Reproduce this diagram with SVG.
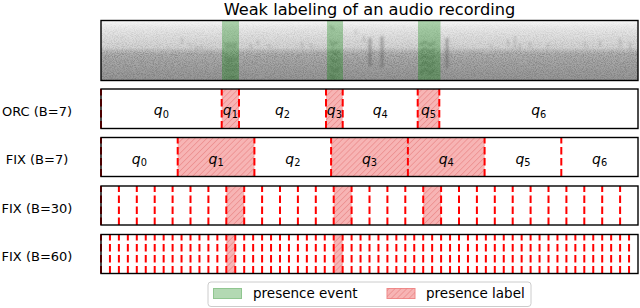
<svg xmlns="http://www.w3.org/2000/svg" width="640" height="308" viewBox="0 0 640 308">
<style>
text{font-family:"DejaVu Sans","Liberation Sans",sans-serif;fill:#000}
.lbl{font-size:13px;text-anchor:middle}
.q{font-size:14px;text-anchor:middle}
.qi{font-style:italic}
.sub{font-size:9.8px}
.box{fill:none;stroke:#000;stroke-width:1.4}
.d{stroke:#ff0000;stroke-width:2;stroke-dasharray:7.5 3.5;fill:none}
.band{fill:#f7b4b4}
.hb{fill:url(#hatch)}
.ev{fill:#008000;fill-opacity:0.3}
.mk{stroke:#3a3a3a;fill:none;filter:url(#soft)}
</style>
<defs>
<linearGradient id="spg" x1="0" y1="0" x2="0" y2="1">
<stop offset="0" stop-color="#f8f8f8"/>
<stop offset="0.1" stop-color="#ececec"/>
<stop offset="0.25" stop-color="#e0e0e0"/>
<stop offset="0.45" stop-color="#d4d4d4"/>
<stop offset="0.5" stop-color="#c2c2c2"/>
<stop offset="0.56" stop-color="#b0b0b0"/>
<stop offset="0.75" stop-color="#a4a4a4"/>
<stop offset="1" stop-color="#969696"/>
</linearGradient>
<linearGradient id="mg" x1="0" y1="0" x2="0" y2="1">
<stop offset="0" stop-color="#000"/>
<stop offset="0.15" stop-color="#444"/>
<stop offset="0.45" stop-color="#777"/>
<stop offset="0.55" stop-color="#fff"/>
<stop offset="1" stop-color="#fff"/>
</linearGradient>
<mask id="nm" maskUnits="userSpaceOnUse" x="101" y="20.5" width="537" height="60">
<rect x="101" y="20.5" width="537" height="60" fill="url(#mg)"/>
</mask>
<filter id="grain" x="0" y="0" width="1" height="1">
<feTurbulence type="fractalNoise" baseFrequency="0.9 1.1" numOctaves="2" seed="7"/>
<feColorMatrix type="matrix" values="0 0 0 0 0.15  0 0 0 0 0.15  0 0 0 0 0.15  2.6 0 0 0 -1.0"/>
</filter>
<filter id="soft" x="-50%" y="-20%" width="200%" height="140%">
<feGaussianBlur stdDeviation="0.8"/>
</filter>
<pattern id="hatch" width="4.2" height="4.2" patternUnits="userSpaceOnUse" patternTransform="rotate(45)">
<line x1="0" y1="0" x2="0" y2="4.2" stroke="#e06a6a" stroke-width="0.8"/>
</pattern>
</defs>

<text x="369.5" y="14.5" style="font-size:16.2px;text-anchor:middle">Weak labeling of an audio recording</text>

<g id="spectrogram">
<rect x="101" y="20.5" width="537" height="60" fill="url(#spg)"/>
<g mask="url(#nm)">
<rect x="101" y="20.5" width="537" height="60" filter="url(#grain)" opacity="0.55"/>
</g>
<g class="mk" stroke-opacity="0.3" stroke-width="1.2">
<path d="M182 38v6M188 44h4M195 46l3 3M200 47h3"/>
<path d="M250 44l2 4M258 40v5M268 45l2 2M302 42v6M310 44l2 3"/>
<path d="M356 30v4M364 36v6"/>
<path d="M490 44l2 3M508 40v6M515 36v12M520 44v6M530 42v5M548 44v4M585 42v5M600 40v6M620 38v10M630 42v8"/>
</g>
<g class="mk" stroke-opacity="0.35" stroke-width="3">
<path d="M370 38v28M382 36v32M447 38v30"/>
</g>
<g class="mk" stroke-opacity="0.45" stroke-width="1.1">
<path d="M224 44h13M225 47h12M224 58h14M226 61h10M224 66h13M225 70h12M226 77h10"/>
<path d="M330 26l4 4M330 40l3 5 4-3M331 50l4 4 4-3M330 58l5 4 5-3M330 66l5 5 5-4M330 74l5 5"/>
<path d="M420 45l5-3 5 3 5-3M420 52l5-4 5 4 5-4M420 59l5-4 5 4 5-4M420 66l5-4 5 4 5-4M420 73l5-4 5 4 5-4"/>
</g>
<rect class="ev" x="222" y="20.5" width="17" height="60"/>
<rect class="ev" x="327" y="20.5" width="16" height="60"/>
<rect class="ev" x="418" y="20.5" width="22.5" height="60"/>
<rect class="box" x="101" y="20.5" width="537" height="60"/>
</g>

<g id="orc">
<text class="lbl" x="37" y="115.7">ORC (B=7)</text>
<g>
<rect class="band" x="221.7" y="89" width="17.3" height="39.5"/><rect class="hb" x="221.7" y="89" width="17.3" height="39.5"/>
<rect class="band" x="326" y="89" width="16.7" height="39.5"/><rect class="hb" x="326" y="89" width="16.7" height="39.5"/>
<rect class="band" x="417.7" y="89" width="21.6" height="39.5"/><rect class="hb" x="417.7" y="89" width="21.6" height="39.5"/>
</g>
<g>
<line class="d" x1="101" y1="128.5" x2="101" y2="89"/>
<line class="d" x1="221.7" y1="128.5" x2="221.7" y2="89"/>
<line class="d" x1="239" y1="128.5" x2="239" y2="89"/>
<line class="d" x1="326" y1="128.5" x2="326" y2="89"/>
<line class="d" x1="342.7" y1="128.5" x2="342.7" y2="89"/>
<line class="d" x1="417.7" y1="128.5" x2="417.7" y2="89"/>
<line class="d" x1="439.3" y1="128.5" x2="439.3" y2="89"/>
</g>
<rect class="box" x="101" y="89" width="537" height="39.5"/>
<text class="q" x="161.4" y="115.3"><tspan class="qi">q</tspan><tspan class="sub" dy="2.5">0</tspan></text>
<text class="q" x="230.4" y="115.3"><tspan class="qi">q</tspan><tspan class="sub" dy="2.5">1</tspan></text>
<text class="q" x="282.5" y="115.3"><tspan class="qi">q</tspan><tspan class="sub" dy="2.5">2</tspan></text>
<text class="q" x="334.4" y="115.3"><tspan class="qi">q</tspan><tspan class="sub" dy="2.5">3</tspan></text>
<text class="q" x="380.2" y="115.3"><tspan class="qi">q</tspan><tspan class="sub" dy="2.5">4</tspan></text>
<text class="q" x="428.5" y="115.3"><tspan class="qi">q</tspan><tspan class="sub" dy="2.5">5</tspan></text>
<text class="q" x="538.7" y="115.3"><tspan class="qi">q</tspan><tspan class="sub" dy="2.5">6</tspan></text>
</g>

<g id="fix7">
<text class="lbl" x="37" y="164">FIX (B=7)</text>
<g>
<rect class="band" x="177.7" y="137.5" width="76.7" height="39"/><rect class="hb" x="177.7" y="137.5" width="76.7" height="39"/>
<rect class="band" x="331.1" y="137.5" width="153.5" height="39"/><rect class="hb" x="331.1" y="137.5" width="153.5" height="39"/>
</g>
<g>
<line class="d" x1="101" y1="176.5" x2="101" y2="137.5"/>
<line class="d" x1="177.7" y1="176.5" x2="177.7" y2="137.5"/>
<line class="d" x1="254.4" y1="176.5" x2="254.4" y2="137.5"/>
<line class="d" x1="331.1" y1="176.5" x2="331.1" y2="137.5"/>
<line class="d" x1="407.9" y1="176.5" x2="407.9" y2="137.5"/>
<line class="d" x1="484.6" y1="176.5" x2="484.6" y2="137.5"/>
<line class="d" x1="561.3" y1="176.5" x2="561.3" y2="137.5"/>
</g>
<rect class="box" x="101" y="137.5" width="537" height="39"/>
<text class="q" x="139.4" y="163.5"><tspan class="qi">q</tspan><tspan class="sub" dy="2.5">0</tspan></text>
<text class="q" x="216.1" y="163.5"><tspan class="qi">q</tspan><tspan class="sub" dy="2.5">1</tspan></text>
<text class="q" x="292.8" y="163.5"><tspan class="qi">q</tspan><tspan class="sub" dy="2.5">2</tspan></text>
<text class="q" x="369.5" y="163.5"><tspan class="qi">q</tspan><tspan class="sub" dy="2.5">3</tspan></text>
<text class="q" x="446.2" y="163.5"><tspan class="qi">q</tspan><tspan class="sub" dy="2.5">4</tspan></text>
<text class="q" x="523" y="163.5"><tspan class="qi">q</tspan><tspan class="sub" dy="2.5">5</tspan></text>
<text class="q" x="599.6" y="163.5"><tspan class="qi">q</tspan><tspan class="sub" dy="2.5">6</tspan></text>
</g>

<g id="fix30">
<text class="lbl" x="37" y="212.5">FIX (B=30)</text>
<g>
<rect class="band" x="226.3" y="186" width="17.9" height="39"/><rect class="hb" x="226.3" y="186" width="17.9" height="39"/>
<rect class="band" x="333.7" y="186" width="17.9" height="39"/><rect class="hb" x="333.7" y="186" width="17.9" height="39"/>
<rect class="band" x="423.2" y="186" width="17.9" height="39"/><rect class="hb" x="423.2" y="186" width="17.9" height="39"/>
</g>
<g>
<line class="d" x1="101" y1="225" x2="101" y2="186"/>
<line class="d" x1="118.9" y1="225" x2="118.9" y2="186"/>
<line class="d" x1="136.8" y1="225" x2="136.8" y2="186"/>
<line class="d" x1="154.7" y1="225" x2="154.7" y2="186"/>
<line class="d" x1="172.6" y1="225" x2="172.6" y2="186"/>
<line class="d" x1="190.5" y1="225" x2="190.5" y2="186"/>
<line class="d" x1="208.4" y1="225" x2="208.4" y2="186"/>
<line class="d" x1="226.3" y1="225" x2="226.3" y2="186"/>
<line class="d" x1="244.2" y1="225" x2="244.2" y2="186"/>
<line class="d" x1="262.1" y1="225" x2="262.1" y2="186"/>
<line class="d" x1="280" y1="225" x2="280" y2="186"/>
<line class="d" x1="297.9" y1="225" x2="297.9" y2="186"/>
<line class="d" x1="315.8" y1="225" x2="315.8" y2="186"/>
<line class="d" x1="333.7" y1="225" x2="333.7" y2="186"/>
<line class="d" x1="351.6" y1="225" x2="351.6" y2="186"/>
<line class="d" x1="369.5" y1="225" x2="369.5" y2="186"/>
<line class="d" x1="387.4" y1="225" x2="387.4" y2="186"/>
<line class="d" x1="405.3" y1="225" x2="405.3" y2="186"/>
<line class="d" x1="423.2" y1="225" x2="423.2" y2="186"/>
<line class="d" x1="441.1" y1="225" x2="441.1" y2="186"/>
<line class="d" x1="459" y1="225" x2="459" y2="186"/>
<line class="d" x1="476.9" y1="225" x2="476.9" y2="186"/>
<line class="d" x1="494.8" y1="225" x2="494.8" y2="186"/>
<line class="d" x1="512.7" y1="225" x2="512.7" y2="186"/>
<line class="d" x1="530.6" y1="225" x2="530.6" y2="186"/>
<line class="d" x1="548.5" y1="225" x2="548.5" y2="186"/>
<line class="d" x1="566.4" y1="225" x2="566.4" y2="186"/>
<line class="d" x1="584.3" y1="225" x2="584.3" y2="186"/>
<line class="d" x1="602.2" y1="225" x2="602.2" y2="186"/>
<line class="d" x1="620.1" y1="225" x2="620.1" y2="186"/>
</g>
<rect class="box" x="101" y="186" width="537" height="39"/>
</g>

<g id="fix60">
<text class="lbl" x="37" y="261">FIX (B=60)</text>
<g>
<rect class="band" x="226.3" y="234.5" width="8.95" height="39"/><rect class="hb" x="226.3" y="234.5" width="8.95" height="39"/>
<rect class="band" x="333.7" y="234.5" width="8.95" height="39"/><rect class="hb" x="333.7" y="234.5" width="8.95" height="39"/>
</g>
<g>
<line class="d" x1="101" y1="273.5" x2="101" y2="234.5"/>
<line class="d" x1="109.95" y1="273.5" x2="109.95" y2="234.5"/>
<line class="d" x1="118.9" y1="273.5" x2="118.9" y2="234.5"/>
<line class="d" x1="127.85" y1="273.5" x2="127.85" y2="234.5"/>
<line class="d" x1="136.8" y1="273.5" x2="136.8" y2="234.5"/>
<line class="d" x1="145.75" y1="273.5" x2="145.75" y2="234.5"/>
<line class="d" x1="154.7" y1="273.5" x2="154.7" y2="234.5"/>
<line class="d" x1="163.65" y1="273.5" x2="163.65" y2="234.5"/>
<line class="d" x1="172.6" y1="273.5" x2="172.6" y2="234.5"/>
<line class="d" x1="181.55" y1="273.5" x2="181.55" y2="234.5"/>
<line class="d" x1="190.5" y1="273.5" x2="190.5" y2="234.5"/>
<line class="d" x1="199.45" y1="273.5" x2="199.45" y2="234.5"/>
<line class="d" x1="208.4" y1="273.5" x2="208.4" y2="234.5"/>
<line class="d" x1="217.35" y1="273.5" x2="217.35" y2="234.5"/>
<line class="d" x1="226.3" y1="273.5" x2="226.3" y2="234.5"/>
<line class="d" x1="235.25" y1="273.5" x2="235.25" y2="234.5"/>
<line class="d" x1="244.2" y1="273.5" x2="244.2" y2="234.5"/>
<line class="d" x1="253.15" y1="273.5" x2="253.15" y2="234.5"/>
<line class="d" x1="262.1" y1="273.5" x2="262.1" y2="234.5"/>
<line class="d" x1="271.05" y1="273.5" x2="271.05" y2="234.5"/>
<line class="d" x1="280" y1="273.5" x2="280" y2="234.5"/>
<line class="d" x1="288.95" y1="273.5" x2="288.95" y2="234.5"/>
<line class="d" x1="297.9" y1="273.5" x2="297.9" y2="234.5"/>
<line class="d" x1="306.85" y1="273.5" x2="306.85" y2="234.5"/>
<line class="d" x1="315.8" y1="273.5" x2="315.8" y2="234.5"/>
<line class="d" x1="324.75" y1="273.5" x2="324.75" y2="234.5"/>
<line class="d" x1="333.7" y1="273.5" x2="333.7" y2="234.5"/>
<line class="d" x1="342.65" y1="273.5" x2="342.65" y2="234.5"/>
<line class="d" x1="351.6" y1="273.5" x2="351.6" y2="234.5"/>
<line class="d" x1="360.55" y1="273.5" x2="360.55" y2="234.5"/>
<line class="d" x1="369.5" y1="273.5" x2="369.5" y2="234.5"/>
<line class="d" x1="378.45" y1="273.5" x2="378.45" y2="234.5"/>
<line class="d" x1="387.4" y1="273.5" x2="387.4" y2="234.5"/>
<line class="d" x1="396.35" y1="273.5" x2="396.35" y2="234.5"/>
<line class="d" x1="405.3" y1="273.5" x2="405.3" y2="234.5"/>
<line class="d" x1="414.25" y1="273.5" x2="414.25" y2="234.5"/>
<line class="d" x1="423.2" y1="273.5" x2="423.2" y2="234.5"/>
<line class="d" x1="432.15" y1="273.5" x2="432.15" y2="234.5"/>
<line class="d" x1="441.1" y1="273.5" x2="441.1" y2="234.5"/>
<line class="d" x1="450.05" y1="273.5" x2="450.05" y2="234.5"/>
<line class="d" x1="459" y1="273.5" x2="459" y2="234.5"/>
<line class="d" x1="467.95" y1="273.5" x2="467.95" y2="234.5"/>
<line class="d" x1="476.9" y1="273.5" x2="476.9" y2="234.5"/>
<line class="d" x1="485.85" y1="273.5" x2="485.85" y2="234.5"/>
<line class="d" x1="494.8" y1="273.5" x2="494.8" y2="234.5"/>
<line class="d" x1="503.75" y1="273.5" x2="503.75" y2="234.5"/>
<line class="d" x1="512.7" y1="273.5" x2="512.7" y2="234.5"/>
<line class="d" x1="521.65" y1="273.5" x2="521.65" y2="234.5"/>
<line class="d" x1="530.6" y1="273.5" x2="530.6" y2="234.5"/>
<line class="d" x1="539.55" y1="273.5" x2="539.55" y2="234.5"/>
<line class="d" x1="548.5" y1="273.5" x2="548.5" y2="234.5"/>
<line class="d" x1="557.45" y1="273.5" x2="557.45" y2="234.5"/>
<line class="d" x1="566.4" y1="273.5" x2="566.4" y2="234.5"/>
<line class="d" x1="575.35" y1="273.5" x2="575.35" y2="234.5"/>
<line class="d" x1="584.3" y1="273.5" x2="584.3" y2="234.5"/>
<line class="d" x1="593.25" y1="273.5" x2="593.25" y2="234.5"/>
<line class="d" x1="602.2" y1="273.5" x2="602.2" y2="234.5"/>
<line class="d" x1="611.15" y1="273.5" x2="611.15" y2="234.5"/>
<line class="d" x1="620.1" y1="273.5" x2="620.1" y2="234.5"/>
<line class="d" x1="629.05" y1="273.5" x2="629.05" y2="234.5"/>
</g>
<rect class="box" x="101" y="234.5" width="537" height="39"/>
</g>

<g id="legend">
<rect x="208" y="282" width="323" height="24.5" rx="3" fill="#fff" stroke="#cccccc" stroke-width="1"/>
<rect x="213.5" y="288.5" width="28" height="10" fill="#b3d9b3" stroke="#90c690" stroke-width="1"/>
<text x="253" y="298" style="font-size:13.5px">presence event</text>
<rect x="387" y="288.5" width="28" height="10" fill="#f7b4b4" stroke="#f08a8a" stroke-width="1"/>
<rect x="387" y="288.5" width="28" height="10" fill="url(#hatch)"/>
<text x="426" y="298" style="font-size:13.5px">presence label</text>
</g>
</svg>
